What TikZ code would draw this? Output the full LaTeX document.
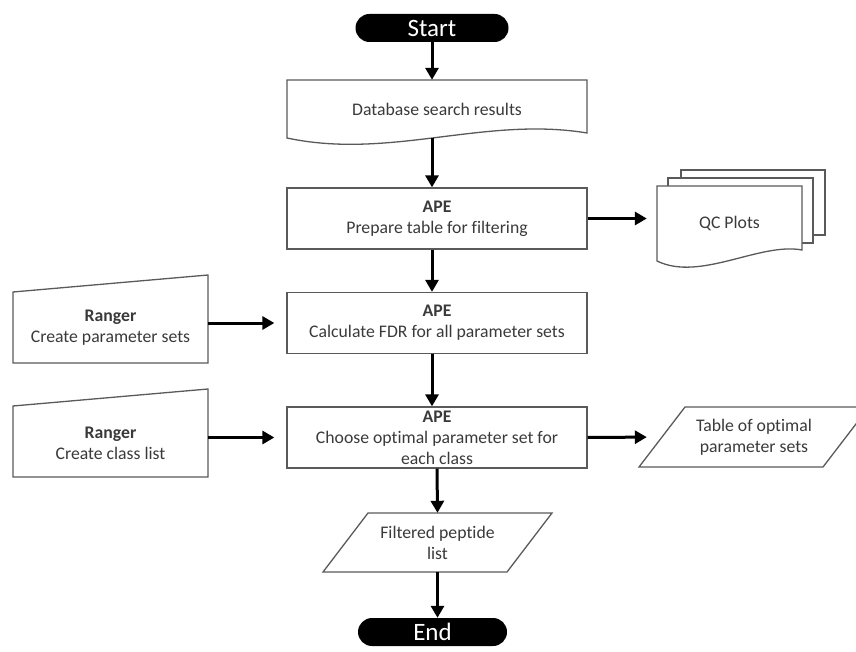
\documentclass[tikz,border=0pt]{standalone}
\usepackage{fontspec}
\setmainfont{Carlito}[Ligatures=NoCommon]
\usetikzlibrary{shapes.misc,arrows.meta}

\definecolor{edgegray}{HTML}{5A5A5A}
\definecolor{textgray}{HTML}{3A3A3A}

\begin{document}
\begin{tikzpicture}[x=1pt,y=-1pt]
	\tikzstyle{every node}=[font=\fontsize{17.7}{21}\selectfont, text=textgray, align=center, inner sep=0pt]
	\tikzstyle{terminal}=[rounded rectangle, fill=black, text=white, font=\fontsize{25}{30}\selectfont, minimum width=153pt, minimum height=28pt]
	\tikzstyle{process}=[draw=edgegray, line width=1.3pt, minimum width=300pt, minimum height=61pt]
	\tikzstyle{outline}=[draw=edgegray, line width=1.3pt, fill=white]
	\tikzstyle{flow}=[line width=3pt, -{Triangle[length=12pt,width=13pt]}]

	\useasboundingbox (0,0) rectangle (856,652);

	% outlines of the odd shapes
	\draw[outline] (287,138) -- (287,80) -- (587,80) -- (587,133) .. controls (485,116) and (390,160) .. (287,138) -- cycle;
	\draw[outline] (681,170) rectangle (825,235);
	\draw[outline] (668,178) rectangle (813,243);
	\draw[outline] (657,186) -- (802,186) -- (802,250) .. controls (760,242) and (700,282) .. (657,261) -- cycle;
	\draw[outline] (13,292) -- (208,275) -- (208,363) -- (13,363) -- cycle;
	\draw[outline] (13,406) -- (208,389) -- (208,477) -- (13,477) -- cycle;
	\draw[outline] (685,407) -- (869,407) -- (823,467) -- (639,467) -- cycle;
	\draw[outline] (368,513) -- (552,513) -- (507,572) -- (323,572) -- cycle;

	% nodes
	\node[terminal] (start) at (432,28) {Start};
	\node[minimum width=300pt, minimum height=58pt] (db) at (437,109) {Database search results};
	\node[process] (ape1) at (437,218.5) {\textbf{APE}\\Prepare table for filtering};
	\node[minimum width=145pt, minimum height=76pt] (qc) at (729.5,224) {QC Plots};
	\node[minimum width=195pt, minimum height=71pt] (ranger1) at (110.5,328) {\textbf{Ranger}\\Create parameter sets};
	\node[process] (ape2) at (437,323) {\textbf{APE}\\Calculate FDR for all parameter sets};
	\node[minimum width=195pt, minimum height=71pt] (ranger2) at (110.5,443) {\textbf{Ranger}\\Create class list};
	\node[process] (ape3) at (437,437.5) {\textbf{APE}\\Choose optimal parameter set for\\each class};
	\node[minimum width=184pt, minimum height=60pt] (table) at (754,437) {Table of optimal\\parameter sets};
	\node[minimum width=184pt, minimum height=59pt] (filt) at (437.5,542.5) {Filtered peptide\\list};
	\node[terminal, minimum width=149pt] (end) at (432.5,632) {End};

	% connectors
	\draw[flow] (start.south) -- (start.south |- db.north);
	\draw[flow] (start.south |- db.south) -- (start.south |- ape1.north);
	\draw[flow] (start.south |- ape1.south) -- (start.south |- ape2.north);
	\draw[flow] (start.south |- ape2.south) -- (start.south |- ape3.north);
	\draw[flow] (ape3.south) -- (filt.north);
	\draw[flow] (filt.south) -- (filt.south |- end.north);
	\draw[flow, shorten >=10pt] (ape1.east) -- (qc.west |- ape1.east);
	\draw[flow, shorten >=12pt] (ranger1.east |- ape2.west) -- (ape2.west);
	\draw[flow, shorten >=12pt] (ranger2.east |- ape3.west) -- (ape3.west);
	\draw[flow, shorten >=15pt] (ape3.east) -- (table.west);
\end{tikzpicture}
\end{document}
